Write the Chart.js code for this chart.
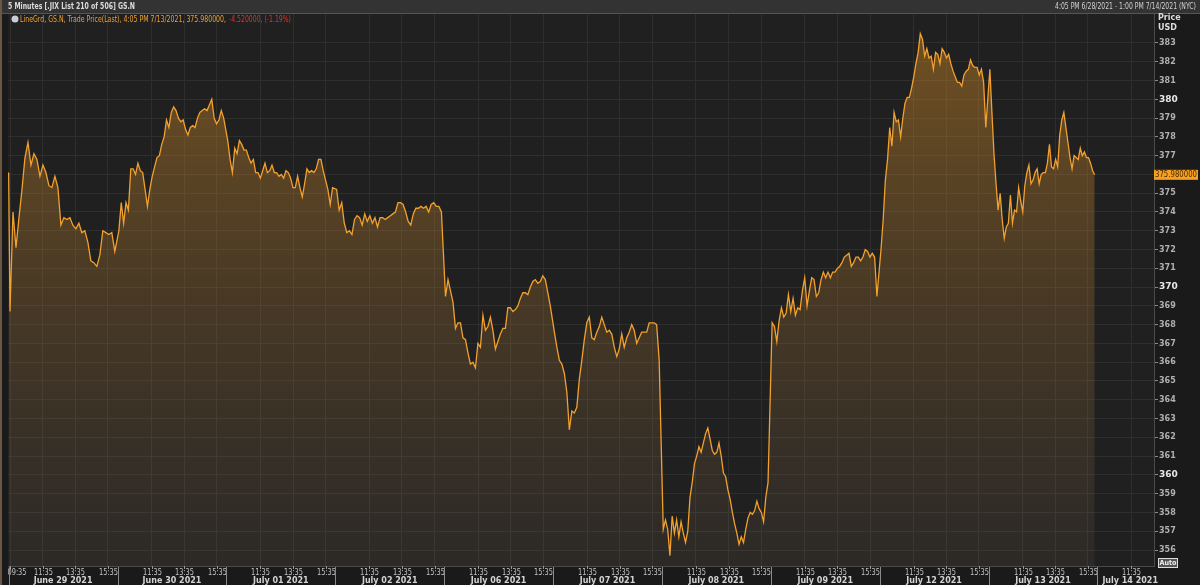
<!DOCTYPE html>
<html>
<head>
<meta charset="utf-8">
<script src="https://cdn.jsdelivr.net/npm/chart.js@4.4.1/dist/chart.umd.min.js"></script>
<style>
  html, body { margin: 0; padding: 0; background: #1a1a1a; }
</style>
</head>
<body>
<canvas id="priceChart" width="1200" height="585"></canvas>
<script>
// session labels, one per trading day shown on the axis
const sessionDays = ["June 29 2021", "June 30 2021", "July 01 2021", "July 02 2021", "July 06 2021",
  "July 07 2021", "July 08 2021", "July 09 2021", "July 12 2021", "July 13 2021", "July 14 2021"];
const timeLabels = ["09:35", "11:35", "13:35", "15:35"];
const timeBars = [0, 24, 48, 72]; // 5 minute bars after 09:35
const yTicks = [356, 357, 358, 359, 360, 361, 362, 363, 364, 365, 366, 367, 368, 369, 370,
  371, 372, 373, 374, 375, 376, 377, 378, 379, 380, 381, 382, 383];

const prevClose = 376.1; // 6/28 close
const jun29 = [368.7, 374.0, 372.1, 373.7, 375.2, 376.9, 377.7, 376.5, 377.1, 376.8, 375.9, 376.5, 376.1, 375.4, 375.3, 375.9, 375.3, 373.3, 373.7, 373.6, 373.7, 373.3, 373.1, 373.4, 372.9, 373.0, 372.4, 371.4, 371.3, 371.1, 371.7, 373.0, 372.9, 372.8, 372.9, 371.9];
const jun30 = [373.0, 374.5, 373.4, 374.5, 374.1, 376.3, 376.3, 376.0, 376.6, 376.2, 376.1, 375.2, 374.3, 375.2, 375.9, 376.4, 376.9, 377.0, 377.6, 378.0, 378.9, 378.5, 379.3, 379.6, 379.4, 379.0, 378.8, 378.9, 378.4, 378.1, 378.5, 378.6, 378.5, 379.0, 379.3, 379.4, 379.5, 379.4, 379.7, 380.0, 379.0, 378.7, 378.9, 379.4, 379.0];
const jul01 = [377.8, 376.8, 376.1, 377.4, 377.1, 377.8, 377.6, 377.3, 377.3, 376.9, 376.6, 376.8, 376.1, 376.1, 375.8, 376.2, 376.6, 376.1, 376.2, 376.5, 376.1, 376.1, 375.9, 376.0, 375.8, 376.2, 376.1, 375.8, 375.3, 375.3, 375.9, 375.3, 374.8, 375.5, 376.3, 376.1, 376.2, 376.1, 376.3, 376.8, 376.8, 376.2, 375.7, 375.2, 374.4, 375.3];
const jul02 = [375.2, 374.1, 374.5, 373.4, 372.9, 373.0, 372.8, 373.6, 373.8, 373.7, 373.3, 373.9, 373.5, 373.8, 373.4, 373.7, 373.2, 373.7, 373.7, 373.6, 373.7, 373.8, 373.9, 374.0, 374.5, 374.5, 374.4, 374.0, 373.5, 373.3, 373.9, 374.2, 374.2, 374.3, 374.2, 374.3, 374.0, 374.4, 374.5, 374.3, 374.3, 374.0];
const jul06 = [369.5, 370.4, 369.8, 369.2, 367.8, 368.1, 368.1, 367.3, 367.2, 366.5, 365.9, 366.0, 365.7, 367.0, 366.8, 368.5, 367.7, 367.9, 368.4, 367.7, 366.7, 367.1, 367.5, 367.8, 367.8, 368.9, 368.9, 368.7, 368.8, 369.0, 369.4, 369.7, 369.7, 369.6, 370.0, 370.3, 370.4, 370.2, 370.3, 370.6, 370.4, 369.7, 369.0];
const jul07 = [367.6, 366.8, 366.1, 365.9, 365.4, 364.4, 362.4, 363.4, 363.3, 363.6, 365.1, 366.1, 367.2, 368.1, 368.4, 367.3, 367.2, 367.6, 367.9, 368.4, 368.0, 367.6, 367.7, 367.5, 366.8, 366.3, 366.7, 367.5, 366.8, 367.3, 367.6, 368.0, 367.7, 367.0, 367.3, 367.6, 367.6, 367.6, 368.1, 368.1, 368.1, 368.0, 366.1];
const jul08 = [357.1, 357.6, 357.1, 355.7, 357.8, 356.9, 357.6, 356.7, 357.5, 356.9, 356.4, 357.0, 358.8, 359.6, 360.6, 361.0, 361.5, 361.2, 361.7, 362.2, 362.5, 361.9, 361.3, 361.1, 361.2, 361.7, 361.0, 360.1, 359.9, 359.2, 358.7, 358.0, 357.4, 356.9, 356.3, 356.7, 356.4, 357.1, 357.7, 358.0, 357.9, 358.1, 358.6, 358.2, 358.0, 357.5, 358.8, 359.6];
const jul09 = [368.1, 367.9, 367.1, 368.2, 368.9, 368.4, 368.6, 369.6, 368.7, 369.4, 368.5, 368.9, 368.8, 369.8, 370.5, 369.0, 369.8, 370.5, 370.4, 369.5, 369.7, 370.4, 370.8, 370.5, 370.8, 370.5, 370.8, 370.8, 371.0, 371.1, 371.3, 371.6, 371.7, 371.8, 371.1, 371.3, 371.6, 371.6, 371.4, 371.6, 372.0, 371.9, 371.6, 371.8, 371.6, 369.5];
const jul12 = [372.0, 373.6, 375.7, 376.8, 378.5, 377.5, 379.3, 378.8, 378.9, 378.0, 379.0, 379.8, 380.1, 380.1, 380.6, 381.2, 381.9, 382.5, 383.5, 383.2, 382.3, 382.7, 382.2, 382.3, 381.6, 382.5, 382.4, 381.9, 382.7, 382.5, 382.2, 382.4, 381.9, 381.5, 381.2, 380.9, 380.9, 380.7, 381.3, 381.5, 381.6, 382.1, 381.8, 381.7, 381.7, 381.3, 381.6, 380.9, 378.5];
const jul13 = [381.6, 379.3, 377.1, 375.5, 374.1, 375.0, 373.6, 372.6, 373.2, 373.4, 374.9, 373.4, 374.1, 374.0, 375.3, 374.6, 374.0, 375.4, 376.1, 376.5, 375.5, 375.7, 376.1, 376.3, 375.5, 376.0, 376.1, 376.1, 376.6, 377.6, 376.4, 376.3, 376.8, 376.4, 378.1, 378.9, 379.3, 378.5, 377.7, 376.9, 376.3, 377.0, 376.9, 376.8, 377.4, 377.0, 377.2, 376.9, 376.9, 376.6, 376.2, 375.98];
const sessions = [jun29, jun30, jul01, jul02, jul06, jul07, jul08, jul09, jul12, jul13];

const titleText = "5 Minutes [.JIX List 210 of 506] GS.N";
const rangeText = "4:05 PM 6/28/2021 - 1:00 PM 7/14/2021 (NYC)";
const legendText = "LineGrd, GS.N, Trade Price(Last), 4:05 PM 7/13/2021, 375.980000,";
const changeText = "-4.520000, (-1.19%)";
const lastPrice = 375.98;

const BARS_PER_DAY = 80; // 78 bars plus the overnight gap

// x in bar units, each session spread over bars 0..77
const points = [{ x: -1, y: prevClose }];
sessions.forEach((vals, d) => {
  vals.forEach((v, i) => {
    points.push({ x: d * BARS_PER_DAY + i * 77 / (vals.length - 1), y: v });
  });
});

const tickVals = [];
sessionDays.forEach((_, d) => {
  timeBars.forEach((b, j) => {
    if (d === 0 || j > 0) {
      if (d < sessionDays.length - 1 || j === 1) tickVals.push({ value: d * BARS_PER_DAY + b, label: timeLabels[j] });
    }
  });
});

const isMajor = (c) => c.tick && c.tick.value % 10 === 0;

const chromePlugin = {
  id: "chrome",
  beforeDraw(chart) {
    const { ctx, chartArea: a } = chart;
    ctx.save();
    ctx.fillStyle = "#1a1a1a";
    ctx.fillRect(0, 0, 1200, 585);
    ctx.fillStyle = "#202020";
    ctx.fillRect(a.left, a.top, a.right - a.left, a.bottom - a.top);
    ctx.restore();
  },
  afterDraw(chart) {
    const { ctx, chartArea: a, scales } = chart;
    const xs = scales.x, ys = scales.y;
    ctx.save();
    // title bar
    ctx.fillStyle = "#333333";
    ctx.fillRect(0, 0, 1200, 13);
    ctx.fillStyle = "#555555";
    ctx.fillRect(0, 13, 1200, 1);
    ctx.fillStyle = "#6b5844";
    ctx.fillRect(0, 0, 2, 585);
    ctx.textBaseline = "middle";
    ctx.font = "bold 8px 'DejaVu Sans'";
    ctx.fillStyle = "#dcdcdc";
    ctx.textAlign = "left";
    ctx.fillText(titleText, 8, 7, 127);
    ctx.font = "8px 'DejaVu Sans'";
    ctx.textAlign = "right";
    ctx.fillStyle = "#d0d0d0";
    ctx.fillText(rangeText, 1196, 7, 141);

    // legend line
    ctx.fillStyle = "#c8ccd8";
    ctx.beginPath();
    ctx.arc(15, 19, 3.5, 0, Math.PI * 2);
    ctx.fill();
    ctx.textAlign = "left";
    ctx.font = "8px 'DejaVu Sans'";
    ctx.fillStyle = "#f0a030";
    ctx.fillText(legendText, 20, 19.5, 206);
    ctx.fillStyle = "#e8302a";
    ctx.fillText(changeText, 229, 19.5, 62);

    // price axis caption
    ctx.font = "bold 8px 'DejaVu Sans'";
    ctx.fillStyle = "#dddddd";
    ctx.fillText("Price", 1158, 18);
    ctx.fillText("USD", 1158, 28);

    // last value box
    const ly = ys.getPixelForValue(lastPrice);
    ctx.fillStyle = "#f5a020";
    ctx.fillRect(a.right, ly - 5, 44, 10);
    ctx.fillStyle = "#4a2a00";
    ctx.font = "8px 'DejaVu Sans'";
    ctx.fillText(lastPrice.toFixed(6), a.right + 1, ly + 0.5, 42);

    // Auto box
    ctx.fillStyle = "#555555";
    ctx.fillRect(1158, 558, 19, 9);
    ctx.strokeStyle = "#dddddd";
    ctx.lineWidth = 1;
    ctx.strokeRect(1158.5, 558.5, 19, 9);
    ctx.fillStyle = "#eeeeee";
    ctx.font = "bold 7px 'DejaVu Sans'";
    ctx.textAlign = "center";
    ctx.fillText("Auto", 1168, 563, 17);

    // time axis
    ctx.font = "8px 'DejaVu Sans'";
    ctx.fillStyle = "#c4c4c4";
    ctx.strokeStyle = "#9a9a9a";
    tickVals.forEach(t => {
      const px = Math.round(xs.getPixelForValue(t.value)) + 0.5;
      ctx.beginPath();
      ctx.moveTo(px, a.bottom);
      ctx.lineTo(px, a.bottom + 3);
      ctx.stroke();
      ctx.textAlign = "center";
      const lx = Math.max(px, 17);
      ctx.fillText(t.label, lx, 573, 19);
    });
    // date row
    ctx.font = "bold 8px 'DejaVu Sans'";
    ctx.fillStyle = "#d4d4d4";
    sessionDays.forEach((lab, d) => {
      const x0 = xs.getPixelForValue(d * BARS_PER_DAY - 1);
      const x1 = xs.getPixelForValue((d + 1) * BARS_PER_DAY - 1);
      ctx.strokeStyle = "#8a8a8a";
      ctx.beginPath();
      ctx.moveTo(Math.round(x0) + 0.5, a.bottom + 1);
      ctx.lineTo(Math.round(x0) + 0.5, 585);
      ctx.stroke();
      if (d < sessionDays.length - 1) {
        ctx.textAlign = "center";
        ctx.fillText(lab, (x0 + x1) / 2, 581);
      } else {
        ctx.textAlign = "left";
        ctx.fillText(lab, x0 + 5, 581);
      }
    });
    ctx.restore();
  }
};

const ctx = document.getElementById("priceChart").getContext("2d");
const priceChart = new Chart(ctx, {
  type: "line",
  data: {
    datasets: [
      {
        label: "GS.N",
        data: points,
        borderColor: "#f2a02e",
        borderWidth: 1.3,
        pointRadius: 0,
        tension: 0,
        fill: "start",
        backgroundColor: (c) => {
          const a = c.chart.chartArea;
          if (!a) return "rgba(0,0,0,0)";
          const g = c.chart.ctx.createLinearGradient(0, a.top, 0, a.bottom);
          g.addColorStop(0, "rgba(205,135,35,0.48)");
          g.addColorStop(0.5, "rgba(190,130,50,0.26)");
          g.addColorStop(1, "rgba(150,120,90,0.1)");
          return g;
        },
      },
    ],
  },
  options: {
    responsive: false,
    animation: false,
    devicePixelRatio: 1,
    layout: { padding: { top: 14, left: 8, right: 0, bottom: 0 } },
    plugins: { legend: { display: false }, tooltip: { enabled: false } },
    scales: {
      x: {
        type: "linear",
        min: -1.47,
        max: 840.6,
        afterBuildTicks: (s) => { s.ticks = tickVals.map(t => ({ value: t.value })); },
        afterFit: (s) => { s.height = 19; },
        ticks: { display: false },
        grid: { color: "#2e2e2e", drawTicks: false },
        border: { color: "#4a4a4a" },
      },
      y: {
        position: "right",
        min: 355.148,
        max: 384.544,
        afterBuildTicks: (s) => { s.ticks = yTicks.map(v => ({ value: v })); },
        afterFit: (s) => { s.width = 46; },
        ticks: {
          padding: 1,
          color: (c) => (isMajor(c) ? "#e8e8e8" : "#b0b0b0"),
          font: (c) => ({ family: "'DejaVu Sans'", size: isMajor(c) ? 9 : 8, weight: "bold" }),
          callback: (v) => v,
        },
        grid: { color: "#2e2e2e", tickLength: 4, tickColor: "#8a8a8a" },
        border: { color: "#4a4a4a" },
      },
    },
  },
  plugins: [chromePlugin],
});
</script>
</body>
</html>
